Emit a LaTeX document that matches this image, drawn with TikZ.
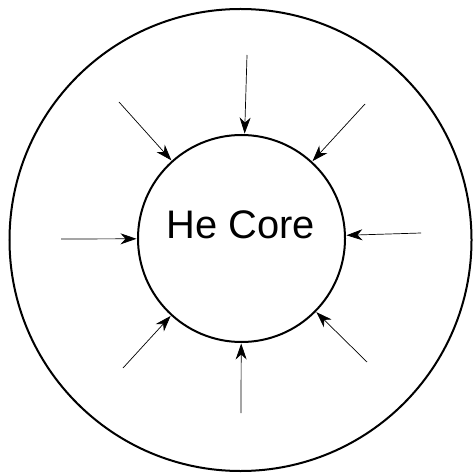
\documentclass[tikz,border=0pt]{standalone}
\usepackage{fontspec}
\setsansfont{Liberation Sans}
\usetikzlibrary{arrows.meta}

\begin{document}
\begin{tikzpicture}[x=1bp,y=-1bp,font=\sffamily,
  shell/.style={draw,circle,inner sep=0pt,line width=2bp},
  infall/.style={line width=0.7bp,-{Stealth[length=16bp,width=11bp,inset=5bp]},shorten >=0.5bp}]
  \useasboundingbox (0,0) rectangle (473,474);
  \node[shell,minimum size=462bp] (envelope) at (240.5,240) {};
  \node[shell,minimum size=207bp] (core) at (241.5,238.5) {};
  \node[inner sep=0pt,font=\sffamily\fontsize{40}{48}\selectfont] (corelabel) at (241,225) {He Core};
  % starting points of the arrows
  \coordinate (fromN) at (247,55);
  \coordinate (fromNW) at (119,102);
  \coordinate (fromNE) at (365,104);
  \coordinate (fromW) at (61,239);
  \coordinate (fromE) at (421,233);
  \coordinate (fromSW) at (123,368);
  \coordinate (fromS) at (241,413);
  \coordinate (fromSE) at (367,362);
  \draw[infall] (fromN) -- (core);
  \draw[infall] (fromNW) -- (core);
  \draw[infall] (fromNE) -- (core);
  \draw[infall] (fromW) -- (core);
  \draw[infall] (fromE) -- (core);
  \draw[infall] (fromSW) -- (core);
  \draw[infall] (fromS) -- (core);
  \draw[infall] (fromSE) -- (core);
\end{tikzpicture}
\end{document}
